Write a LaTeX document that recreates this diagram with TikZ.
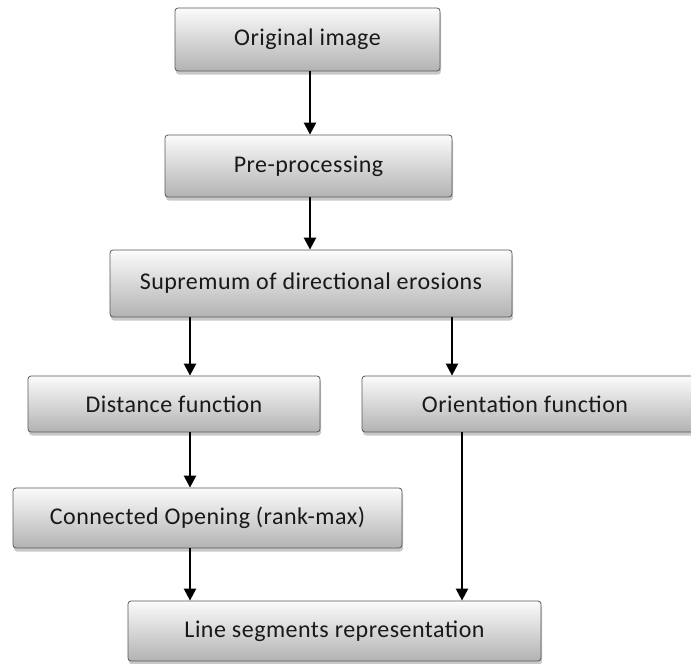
\documentclass[tikz,border=0pt]{standalone}
\usepackage{fontspec}
\setmainfont[LetterSpace=2]{Carlito}
\usetikzlibrary{arrows.meta,shadows}
\tikzset{
  box/.style={draw=gray!70!black, line width=0.8pt, rounded corners=3pt,
    top color=gray!3, bottom color=gray!60, inner sep=0pt,
    drop shadow={shadow xshift=1pt, shadow yshift=-3.5pt, fill=gray!60, opacity=0.7},
    font=\fontsize{24}{26}\selectfont, text=black!90},
  arr/.style={line width=2.4pt, -{Triangle[length=12pt,width=12pt]}}
}
\begin{document}
\begin{tikzpicture}[x=1pt,y=-1pt]
\useasboundingbox (0,0) rectangle (691,664);
\node[box, minimum width=265, minimum height=63] (orig) at (307.5,39.5) {Original image};
\node[box, minimum width=287, minimum height=62] (pre) at (308.5,166) {Pre-processing};
\node[box, minimum width=402, minimum height=67] (sup) at (311,283.5) {Supremum of directional erosions};
\node[box, minimum width=292, minimum height=56] (dist) at (174,404) {Distance function};
\node[box, minimum width=348, minimum height=56,
  label={[font=\fontsize{24}{26}\selectfont, text=black!90, xshift=-11pt]center:Orientation function}] (orient) at (536,404) {};
\node[box, minimum width=389, minimum height=60] (conn) at (207.5,518) {Connected Opening (rank-max)};
\node[box, minimum width=413, minimum height=60] (line) at (334.5,631) {Line segments representation};
\coordinate (cx) at (310,0);
\coordinate (lx) at (190,0);
\coordinate (rx) at (452,0);
\coordinate (rx2) at (462,0);
\draw[arr] (orig.south -| cx) -- (pre.north -| cx);
\draw[arr] (pre.south -| cx) -- (sup.north -| cx);
\draw[arr] (sup.south -| lx) -- (dist.north -| lx);
\draw[arr] (sup.south -| rx) -- (orient.north -| rx);
\draw[arr] (dist.south -| lx) -- (conn.north -| lx);
\draw[arr] (conn.south -| lx) -- (line.north -| lx);
\draw[arr] (orient.south -| rx2) -- (line.north -| rx2);
\end{tikzpicture}
\end{document}
